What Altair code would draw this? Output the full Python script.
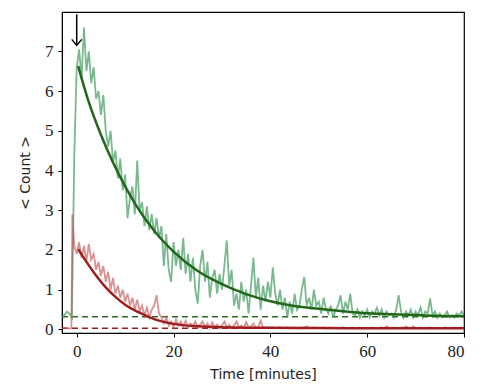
import altair as alt
import pandas as pd

# ---- noisy measured series (time in minutes, mean count) ----
green_t = [-3.0, -2.5, -2.0, -1.5, -1.0, -0.5] + [i * 0.5 for i in range(0, 161)]
green_v = [0.32, 0.36, 0.45, 0.40, 0.30, 4.4,
           6.6, 7.05, 6.3, 7.6, 6.5, 7.0, 6.2, 6.6, 5.8, 6.0,
           5.4, 5.9, 5.0, 4.6, 5.0, 4.2, 4.5, 3.8, 4.3, 3.5,
           3.9, 2.8, 3.3, 3.6, 2.9, 4.25, 3.0, 3.2, 2.6, 3.1,
           2.5, 2.9, 2.4, 2.8, 2.3, 2.6, 1.6, 2.4, 1.5, 1.2,
           2.2, 1.6, 2.0, 1.5, 2.3, 1.4, 1.9, 1.2, 1.8, 1.0,
           0.65, 1.6, 2.0, 1.2, 1.7, 0.8, 1.3, 1.5, 0.9, 1.4,
           1.0, 1.6, 2.24, 1.1, 1.5, 0.6, 0.9, 0.5, 1.2, 0.7,
           1.0, 0.4, 1.1, 1.8, 0.8, 1.3, 0.5, 1.1, 0.7, 1.2,
           0.8, 1.56, 0.9, 0.6, 1.0, 0.5, 0.8, 0.3, 0.7, 0.4,
           0.9, 0.5, 0.6, 1.0, 1.32, 0.6, 0.8, 0.5, 1.0, 0.6,
           0.7, 0.4, 0.8, 0.5, 0.4, 0.6, 0.3, 0.5, 0.6, 0.86,
           0.4, 0.7, 0.5, 0.9, 0.4, 0.35, 0.5, 0.3, 0.45, 0.35,
           0.5, 0.3, 0.45, 0.4, 0.55, 0.35, 0.5, 0.3, 0.45, 0.35,
           0.4, 0.3, 0.5, 0.86, 0.45, 0.3, 0.45, 0.35, 0.5, 0.3,
           0.45, 0.35, 0.55, 0.3, 0.45, 0.4, 0.78, 0.35, 0.45, 0.3,
           0.4, 0.3, 0.35, 0.45, 0.3, 0.35, 0.3, 0.4, 0.35, 0.45,
           0.35]

red_t = [-3.0, -2.5, -2.0, -1.5, -1.1, -0.9, -0.5] + [i * 0.5 for i in range(0, 161)]
red_v = [0.03, 0.04, 0.03, 0.02, 0.03, 2.9, 2.1,
         1.9, 2.2, 1.8, 2.1, 1.7, 2.15, 1.75, 1.9, 1.5, 1.7,
         1.35, 1.6, 1.2, 1.45, 1.0, 1.3, 0.9, 1.1, 0.8, 1.0,
         0.7, 0.9, 0.6, 0.8, 0.5, 0.75, 0.45, 0.6, 0.35, 0.55,
         0.3, 0.5, 0.6, 0.86, 0.4, 0.3, 0.15, 0.3, 0.1, 0.2,
         0.05, 0.25, 0.1, 0.2, 0.08, 0.22, 0.05, 0.15, 0.08, 0.2,
         0.05, 0.12, 0.2, 0.06, 0.15, 0.04, 0.18, 0.06, 0.12, 0.05,
         0.1, 0.2, 0.05, 0.12, 0.04, 0.1, 0.2, 0.05, 0.1, 0.04,
         0.18, 0.05, 0.08, 0.15, 0.04, 0.06, 0.22, 0.05, 0.04, 0.05,
         0.04, 0.05, 0.03, 0.04, 0.05, 0.03, 0.04, 0.05, 0.03, 0.04,
         0.05, 0.03, 0.04, 0.05, 0.04, 0.08, 0.04, 0.03, 0.05, 0.04,
         0.03, 0.04, 0.05, 0.03, 0.04, 0.05, 0.03, 0.04, 0.04, 0.03,
         0.05, 0.04, 0.03, 0.04, 0.05, 0.03, 0.04, 0.05, 0.03, 0.04,
         0.04, 0.03, 0.05, 0.04, 0.03, 0.04, 0.05, 0.03, 0.08, 0.04,
         0.03, 0.05, 0.04, 0.03, 0.05, 0.04, 0.08, 0.04, 0.03, 0.08,
         0.04, 0.03, 0.05, 0.04, 0.03, 0.04, 0.05, 0.03, 0.04, 0.04,
         0.04, 0.03, 0.05, 0.04, 0.03, 0.04, 0.05, 0.03, 0.04, 0.05,
         0.03]

# ---- exponential fits ----
gfit_t = [0.3, 2.5, 5, 7.5, 10, 12.5, 15, 17.5, 20, 25, 30, 35, 40, 45, 50, 55, 60, 65, 70, 75, 80]
gfit_v = [6.63, 5.72, 4.9, 4.2, 3.6, 3.08, 2.64, 2.27, 1.96, 1.47, 1.14, 0.89, 0.71, 0.59, 0.52, 0.46, 0.41, 0.38, 0.36, 0.34, 0.33]
rfit_t = [0.3, 2, 4, 6, 8, 10, 13, 16, 20, 25, 30, 40, 50, 60, 70, 80]
rfit_v = [2.02, 1.7, 1.36, 1.06, 0.82, 0.62, 0.42, 0.26, 0.14, 0.08, 0.055, 0.04, 0.035, 0.03, 0.03, 0.03]

baseline_green = 0.32
baseline_red = 0.03
arrow_t = 0.0
arrow_top = 7.93
arrow_tip = 7.15

x_ticks = [0, 20, 40, 60, 80]
y_ticks = [0, 1, 2, 3, 4, 5, 6, 7]

xs = alt.Scale(domain=[-3.04, 80], nice=False, zero=False)
ys = alt.Scale(domain=[-0.09, 7.99], nice=False, zero=False)

xax = alt.Axis(title="Time [minutes]", values=x_ticks, grid=False)
yax = alt.Axis(title="< Count >", values=y_ticks, grid=False)

g_df = pd.DataFrame({"t": green_t, "v": green_v})
r_df = pd.DataFrame({"t": red_t, "v": red_v})
gf_df = pd.DataFrame({"t": gfit_t, "v": gfit_v})
rf_df = pd.DataFrame({"t": rfit_t, "v": rfit_v})
base_df = pd.DataFrame({"t": [-3.04, 80, -3.04, 80],
                        "v": [baseline_green, baseline_green, baseline_red, baseline_red],
                        "s": ["g", "g", "r", "r"]})
arrow_df = pd.DataFrame({"t": [arrow_t], "y1": [arrow_top], "y2": [arrow_tip]})

X = alt.X("t:Q", scale=xs, axis=xax)
Y = alt.Y("v:Q", scale=ys, axis=yax)

green_noisy = alt.Chart(g_df).mark_line(color="#3a9858", opacity=0.68, strokeWidth=1.8, clip=True).encode(x=X, y=Y)
red_noisy = alt.Chart(r_df).mark_line(color="#c0504d", opacity=0.62, strokeWidth=1.8, clip=True).encode(x=X, y=Y)

base_g = alt.Chart(base_df[base_df.s == "g"]).mark_line(color="#2d6e22", strokeDash=[6, 4], strokeWidth=1.5).encode(x=X, y=Y)
base_r = alt.Chart(base_df[base_df.s == "r"]).mark_line(color="#a01e1e", strokeDash=[6, 4], strokeWidth=1.5).encode(x=X, y=Y)

green_fit = alt.Chart(gf_df).mark_line(color="#22661a", strokeWidth=2.5, interpolate="monotone").encode(x=X, y=Y)
red_fit = alt.Chart(rf_df).mark_line(color="#a01e1e", strokeWidth=2.5, interpolate="monotone").encode(x=X, y=Y)

arrow_shaft = alt.Chart(arrow_df).mark_rule(color="black", strokeWidth=1.5).encode(
    x=alt.X("t:Q", scale=xs), y=alt.Y("y1:Q", scale=ys), y2="y2:Q")
arrow_head = alt.Chart(arrow_df).mark_point(
    shape="M-1,-1.2L0,0L1,-1.2", filled=False, color="black", strokeWidth=1.5, size=100, opacity=1
).encode(x=alt.X("t:Q", scale=xs), y=alt.Y("y2:Q", scale=ys))

chart = alt.layer(
    base_g, base_r, green_noisy, red_noisy, green_fit, red_fit, arrow_shaft, arrow_head
).properties(
    width=402, height=321,
    autosize=alt.AutoSizeParams(type="none"),
    padding={"left": 54, "top": 4, "right": 12, "bottom": 48},
).configure_view(
    stroke="black", strokeWidth=1.2
).configure_axis(
    domainColor="black", tickColor="black", tickSize=4, tickWidth=1,
    labelFont="Liberation Serif, DejaVu Serif, serif", labelFontSize=17, labelColor="#222222",
    titleFont="DejaVu Sans", titleFontSize=14, titleFontWeight="normal", titleColor="#222222",
).configure_axisX(labelPadding=6, titlePadding=8).configure_axisY(labelPadding=5, titlePadding=12)

chart.save("out.html", embed_options={"renderer": "svg", "actions": False})
